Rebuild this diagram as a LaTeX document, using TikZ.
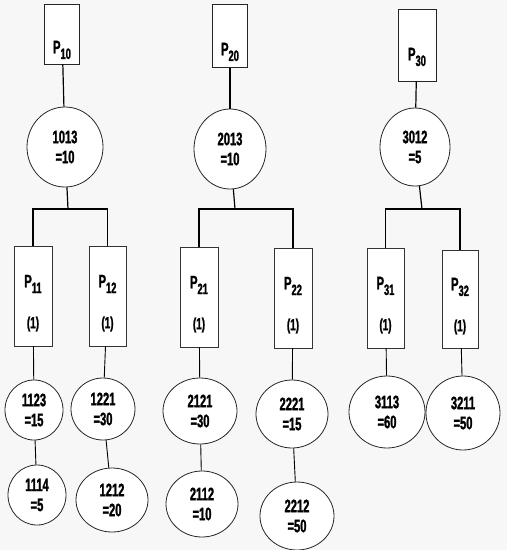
\documentclass[tikz,border=0pt]{standalone}
\usepackage{fontspec}
\setmainfont{Liberation Sans}[FakeStretch=0.62, BoldFeatures={FakeBold=1.5}]
\usetikzlibrary{shapes.geometric}

% subscripted process label
\newcommand\procname[2]{\fontsize{18}{20}\selectfont P\raisebox{-0.6ex}{\fontsize{15}{16}\selectfont #2}}

\tikzset{
  topbox/.style={draw=black!85, line width=0.8pt, fill=white, minimum width=35pt, inner sep=0pt},
  subbox/.style={draw=black!80, line width=0.7pt, fill=white, minimum width=37pt, minimum height=100pt, inner sep=0pt},
  opnode/.style={ellipse, draw=black!85, line width=0.8pt, fill=white, inner sep=0pt,
                 align=center, font=\bfseries\fontsize{18}{20}\selectfont},
  lbl/.style={inner sep=0pt, font=\bfseries},
  link/.style={draw=black, line width=1.2pt},
}

\begin{document}
\begin{tikzpicture}[x=1pt, y=-1pt]
\fill[black!3] (0,0) rectangle (507,550);
\useasboundingbox (0,0) rectangle (507,550);

% ---- top level products ----
\node[topbox, minimum height=60pt] (p10) at (62,34) {};
\node[topbox, minimum height=63pt] (p20) at (230,36) {};
\node[topbox, minimum height=72pt, minimum width=38pt] (p30) at (417,45) {};
\node[lbl] at (62,50) {\procname{P}{10}};
\node[lbl] at (230,52) {\procname{P}{20}};
\node[lbl] at (417,57) {\procname{P}{30}};

% ---- assembly operations ----
\node[opnode, minimum width=76pt, minimum height=80pt] (e10) at (65,147) {1013\\=10};
\node[opnode, minimum width=72pt, minimum height=80pt] (e20) at (230,149) {2013\\=10};
\node[opnode, minimum width=70pt, minimum height=78pt] (e30) at (415,147) {3012\\=5};

\draw[link] (p10) -- (e10);
\draw[link] (p20) -- (e20);
\draw[link] (p30) -- (e30);

% ---- components ----
\node[subbox, minimum width=38pt] (p11) at (33,296) {};
\node[subbox] (p12) at (107.5,296) {};
\node[subbox, minimum width=38pt] (p21) at (199,297) {};
\node[subbox, minimum width=38pt] (p22) at (293,298) {};
\node[subbox] (p31) at (385.5,298) {};
\node[subbox, minimum width=36pt, minimum height=98pt] (p32) at (460,299) {};

\foreach \n/\s in {p11/11, p12/12, p21/21, p22/22, p31/31, p32/32}{
  \node[lbl] at ([yshift=12pt]\n.center) {\procname{P}{\s}};
  \node[lbl, font=\bfseries\fontsize{16}{18}\selectfont] at ([yshift=-28pt]\n.center) {(1)};
}

% ---- branch points ----
\coordinate (j1) at (68,209);
\coordinate (j2) at (235,209);
\coordinate (j3) at (422,209);

\draw[link] (e10) -- (j1);
\draw[link] (e20) -- (j2);
\draw[link] (e30) -- (j3);
\draw[link] (p11.north) |- (j1) -| (p12.north);
\draw[link] (p21.north) |- (j2) -| (p22.north);
\draw[link] (p31.north) |- (j3) -| (p32.north);

% ---- component operations ----
\node[opnode, minimum width=58pt, minimum height=60pt] (q11) at (34,410) {1123\\=15};
\node[opnode, minimum width=64pt, minimum height=62pt] (q12) at (103,409) {1221\\=30};
\node[opnode, minimum width=74pt, minimum height=66pt] (q21) at (200,411) {2121\\=30};
\node[opnode, minimum width=72pt, minimum height=68pt] (q22) at (292,414) {2221\\=15};
\node[opnode, minimum width=76pt, minimum height=72pt] (q31) at (387,412) {3113\\=60};
\node[opnode, minimum width=74pt, minimum height=74pt] (q32) at (463,413) {3211\\=50};

\node[opnode, minimum width=58pt, minimum height=60pt] (r11) at (37,495) {1114\\=5};
\node[opnode, minimum width=72pt, minimum height=64pt] (r12) at (112,500) {1212\\=20};
\node[opnode, minimum width=72pt, minimum height=66pt] (r21) at (202,504) {2112\\=10};
\node[opnode, minimum width=74pt, minimum height=68pt] (r22) at (297,516) {2212\\=50};

\foreach \a/\b in {p11/q11, p12/q12, p21/q21, p22/q22, p31/q31, p32/q32,
                   q11/r11, q12/r12, q21/r21, q22/r22}{
  \draw[link, line width=0.9pt] (\a) -- (\b);
}
\end{tikzpicture}
\end{document}
